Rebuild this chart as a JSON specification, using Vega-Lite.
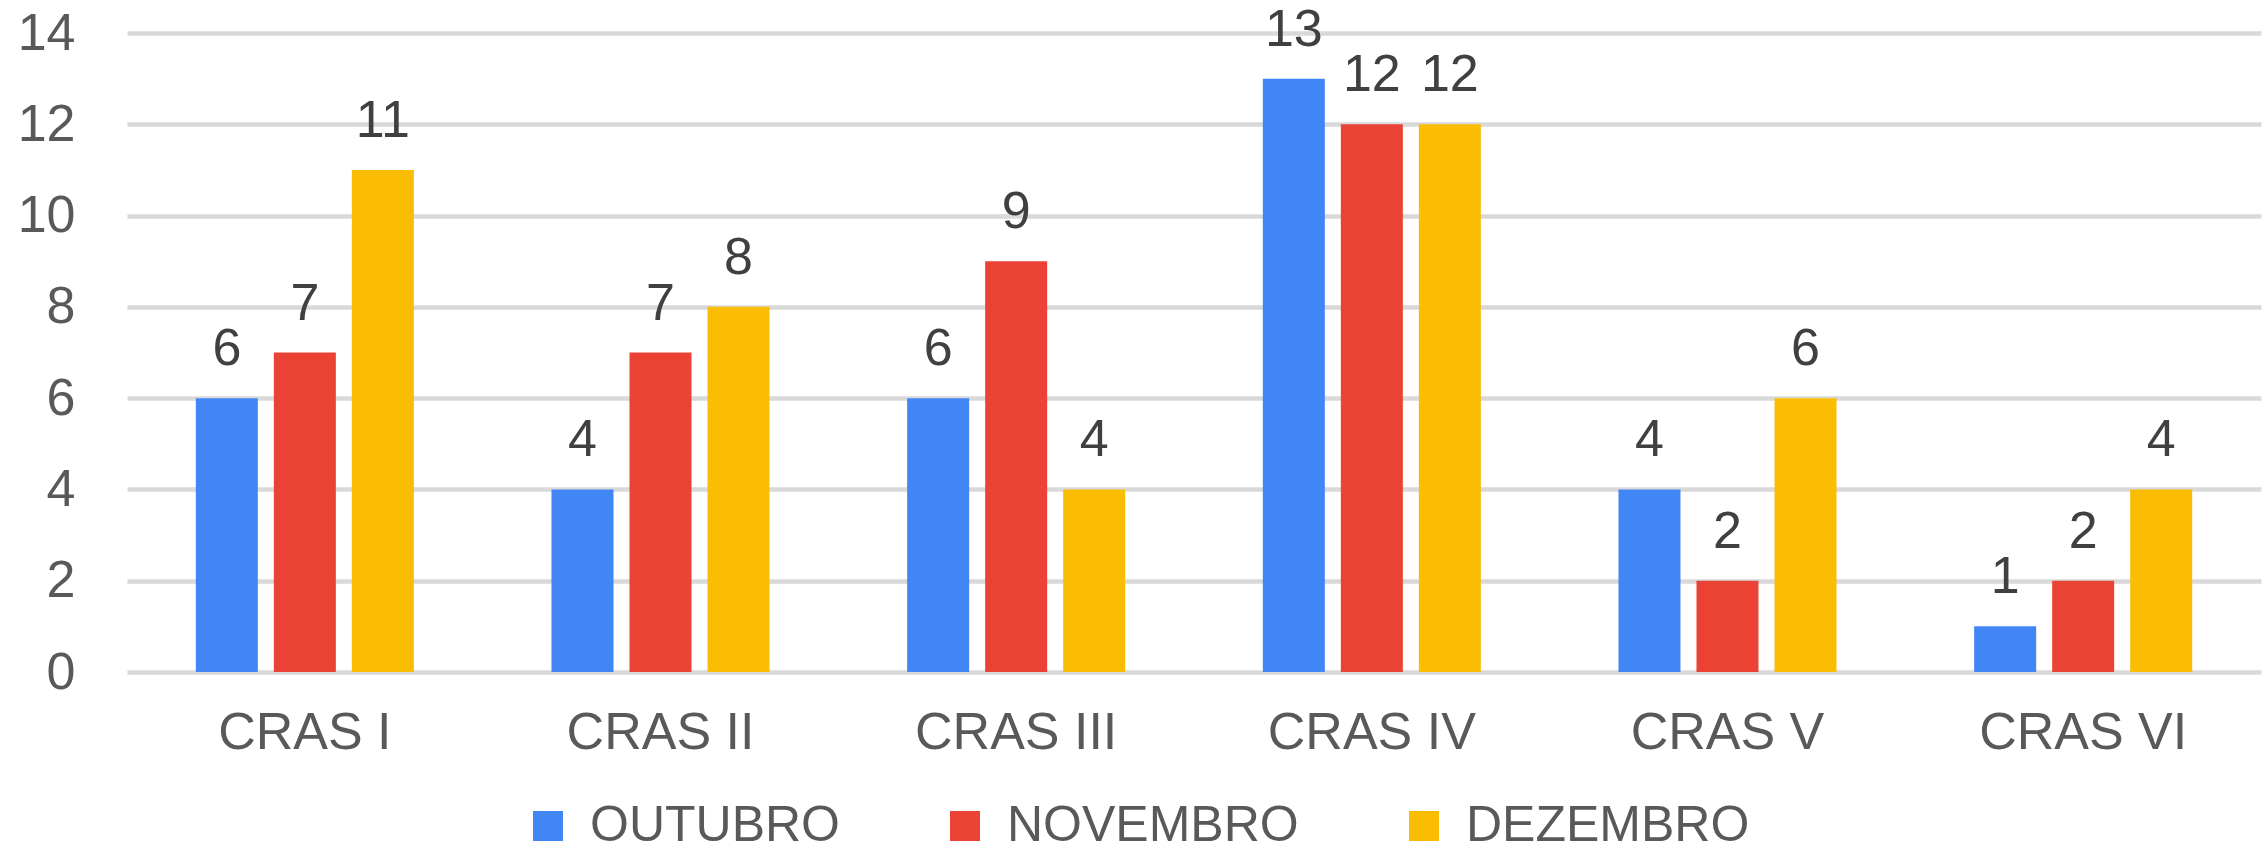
{
  "$schema": "https://vega.github.io/schema/vega-lite/v6.json",
  "width": 2134,
  "height": 639,
  "autosize": {"type": "none"},
  "padding": {"left": 127, "top": 33, "right": 6, "bottom": 180},
  "background": "white",
  "config": {"view": {"stroke": null}, "font": "Liberation Sans"},
  "data": {
    "values": [
      {"cras": "CRAS I", "mes": "OUTUBRO", "valor": 6},
      {"cras": "CRAS I", "mes": "NOVEMBRO", "valor": 7},
      {"cras": "CRAS I", "mes": "DEZEMBRO", "valor": 11},
      {"cras": "CRAS II", "mes": "OUTUBRO", "valor": 4},
      {"cras": "CRAS II", "mes": "NOVEMBRO", "valor": 7},
      {"cras": "CRAS II", "mes": "DEZEMBRO", "valor": 8},
      {"cras": "CRAS III", "mes": "OUTUBRO", "valor": 6},
      {"cras": "CRAS III", "mes": "NOVEMBRO", "valor": 9},
      {"cras": "CRAS III", "mes": "DEZEMBRO", "valor": 4},
      {"cras": "CRAS IV", "mes": "OUTUBRO", "valor": 13},
      {"cras": "CRAS IV", "mes": "NOVEMBRO", "valor": 12},
      {"cras": "CRAS IV", "mes": "DEZEMBRO", "valor": 12},
      {"cras": "CRAS V", "mes": "OUTUBRO", "valor": 4},
      {"cras": "CRAS V", "mes": "NOVEMBRO", "valor": 2},
      {"cras": "CRAS V", "mes": "DEZEMBRO", "valor": 6},
      {"cras": "CRAS VI", "mes": "OUTUBRO", "valor": 1},
      {"cras": "CRAS VI", "mes": "NOVEMBRO", "valor": 2},
      {"cras": "CRAS VI", "mes": "DEZEMBRO", "valor": 4}
    ]
  },
  "encoding": {
    "x": {
      "field": "cras",
      "type": "nominal",
      "sort": ["CRAS I", "CRAS II", "CRAS III", "CRAS IV", "CRAS V", "CRAS VI"],
      "scale": {"paddingInner": 0.387, "paddingOuter": 0.1935},
      "axis": {
        "title": null,
        "domain": false,
        "ticks": false,
        "labelAngle": 0,
        "labelFontSize": 52,
        "labelColor": "#595959",
        "labelPadding": 35,
        "labelLimit": 0,
        "labelFont": "Liberation Sans"
      }
    },
    "xOffset": {
      "field": "mes",
      "type": "nominal",
      "sort": ["OUTUBRO", "NOVEMBRO", "DEZEMBRO"],
      "scale": {"paddingInner": 0.205, "paddingOuter": 0}
    },
    "y": {
      "field": "valor",
      "type": "quantitative",
      "scale": {"domain": [0, 14]},
      "axis": {
        "title": null,
        "values": [0, 2, 4, 6, 8, 10, 12, 14],
        "domain": false,
        "ticks": false,
        "grid": true,
        "gridColor": "#d9d9d9",
        "gridWidth": 4.5,
        "labelFontSize": 52,
        "labelColor": "#595959",
        "labelPadding": 52,
        "labelFont": "Liberation Sans"
      }
    }
  },
  "layer": [
    {
      "mark": {"type": "bar"},
      "encoding": {
        "color": {
          "field": "mes",
          "type": "nominal",
          "sort": ["OUTUBRO", "NOVEMBRO", "DEZEMBRO"],
          "scale": {
            "domain": ["OUTUBRO", "NOVEMBRO", "DEZEMBRO"],
            "range": ["#4285F4", "#EA4335", "#FBBC04"]
          },
          "legend": {
            "orient": "none",
            "legendX": 396,
            "legendY": 768,
            "direction": "horizontal",
            "title": null,
            "symbolType": "square",
            "symbolSize": 900,
            "symbolStrokeWidth": 0,
            "labelFontSize": 50,
            "labelColor": "#595959",
            "labelOffset": 17,
            "labelLimit": 0,
            "columnPadding": 100,
            "labelFont": "Liberation Sans"
          }
        }
      }
    },
    {
      "mark": {
        "type": "text",
        "baseline": "alphabetic",
        "dy": -33,
        "fontSize": 52,
        "color": "#404040",
        "font": "Liberation Sans"
      },
      "encoding": {
        "text": {"field": "valor", "type": "quantitative"}
      }
    }
  ]
}
